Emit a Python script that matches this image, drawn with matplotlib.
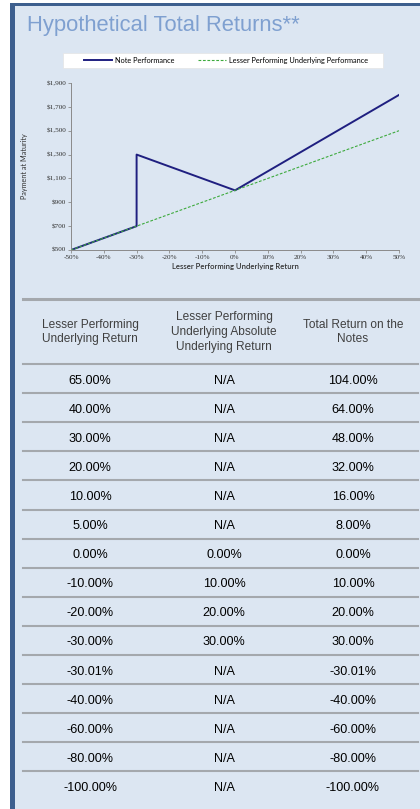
import numpy as np
import matplotlib.pyplot as plt
from matplotlib.lines import Line2D
from matplotlib.patches import Rectangle

# chart data
x_note = [-50, -30, -30, 0, 50]
y_note = [500, 700, 1300, 1000, 1800]
x_under = [-50, 50]
y_under = [500, 1500]
x_ticks = [-50, -40, -30, -20, -10, 0, 10, 20, 30, 40, 50]
y_ticks = [500, 700, 900, 1100, 1300, 1500, 1700, 1900]

# table data
headers = ['Lesser Performing\nUnderlying Return',
           'Lesser Performing\nUnderlying Absolute\nUnderlying Return',
           'Total Return on the\nNotes']
col_under = ['65.00%', '40.00%', '30.00%', '20.00%', '10.00%', '5.00%', '0.00%',
             '-10.00%', '-20.00%', '-30.00%', '-30.01%', '-40.00%', '-60.00%',
             '-80.00%', '-100.00%']
col_abs = ['N/A', 'N/A', 'N/A', 'N/A', 'N/A', 'N/A', '0.00%', '10.00%', '20.00%',
           '30.00%', 'N/A', 'N/A', 'N/A', 'N/A', 'N/A']
col_total = ['104.00%', '64.00%', '48.00%', '32.00%', '16.00%', '8.00%', '0.00%',
             '10.00%', '20.00%', '30.00%', '-30.01%', '-40.00%', '-60.00%',
             '-80.00%', '-100.00%']

W, H = 420, 809
bg = '#dce6f2'
border = '#3d5f8e'
navy = '#1f1f80'
green = '#3daa3d'
rule = '#a4a8ad'
small = ['Lato', 'DejaVu Sans']
serif = ['Liberation Serif', 'DejaVu Serif']

fig = plt.figure(figsize=(W / 100, H / 100), dpi=100)
fig.patch.set_facecolor('white')

# page layer in pixel coordinates
page = fig.add_axes([0, 0, 1, 1])
page.set_xlim(0, W)
page.set_ylim(H, 0)
page.axis('off')
page.add_patch(Rectangle((10, 3), W - 10, H, facecolor=bg, edgecolor='none'))
page.add_patch(Rectangle((10, 3), 4.5, H, facecolor=border, edgecolor='none'))
page.add_patch(Rectangle((10, 3), W - 10, 2.5, facecolor=border, edgecolor='none'))
page.text(27, 31, 'Hypothetical Total Returns**', fontsize=15.8, color='#7fa0d0',
          family='Liberation Sans', va='baseline', ha='left')
# legend box
page.add_patch(Rectangle((63, 53), 320, 15, facecolor='white', edgecolor='#e4e4e4',
                         lw=0.5))

# table
col_x = [90, 224, 353]
page.add_line(Line2D([23, 418], [299, 299], color=rule, lw=2.2))
for cx, h in zip(col_x, headers):
    page.text(cx, 332, h, ha='center', va='center', fontsize=8.6, color='#404040',
              family='Liberation Sans', linespacing=1.28, multialignment='center')
row_top = 364
row_h = 29.1
page.add_line(Line2D([23, 418], [row_top, row_top], color=rule, lw=1.5))
for i, vals in enumerate(zip(col_under, col_abs, col_total)):
    yc = row_top + row_h * (i + 0.5) + 2
    for cx, v in zip(col_x, vals):
        page.text(cx, yc, v, ha='center', va='center', fontsize=9.1, color='black',
                  family='Liberation Sans')
    if i < len(col_under) - 1:
        yl = row_top + row_h * (i + 1)
        page.add_line(Line2D([23, 418], [yl, yl], color=rule, lw=1.5))

# chart
ax = fig.add_axes([71 / W, 1 - 250 / H, (399 - 71) / W, (250 - 83) / H])
ax.patch.set_alpha(0)
ax.plot(x_note, y_note, color=navy, lw=1.4, label='Note Performance')
ax.plot(x_under, y_under, color=green, lw=0.8, ls=(0, (2.5, 1.5)),
        label='Lesser Performing Underlying Performance')
ax.set_xlim(-50, 50)
ax.set_ylim(500, 1900)
ax.set_xticks(x_ticks)
ax.set_xticklabels(['%d%%' % v for v in x_ticks], family=serif, fontsize=5.2)
ax.set_yticks(y_ticks)
ax.set_yticklabels(['${:,}'.format(v) for v in y_ticks], family=serif, fontsize=5.2)
for s in ['top', 'right']:
    ax.spines[s].set_visible(False)
for s in ['left', 'bottom']:
    ax.spines[s].set_color('#8a8a8a')
    ax.spines[s].set_linewidth(0.7)
ax.tick_params(length=2, width=0.6, color='#8a8a8a', pad=1.5, labelcolor='#333333')
ax.set_xlabel('Lesser Performing Underlying Return', family=small, fontsize=5.6,
              color='#333333', labelpad=2.5, fontweight='semibold')
ax.set_ylabel('Payment at Maturity', family=small, fontsize=5.2, color='#333333')
ax.yaxis.set_label_coords(-43 / (399 - 71), 0.5)
leg = ax.legend(ncol=2, loc='center',
                bbox_to_anchor=(66 / W, 1 - 68 / H, 320 / W, 15 / H),
                bbox_transform=fig.transFigure, frameon=False,
                prop={'family': small, 'size': 5.3}, handlelength=3.8,
                borderaxespad=0, handletextpad=0.3, columnspacing=3.3)

fig.savefig('out.png', dpi=100)
